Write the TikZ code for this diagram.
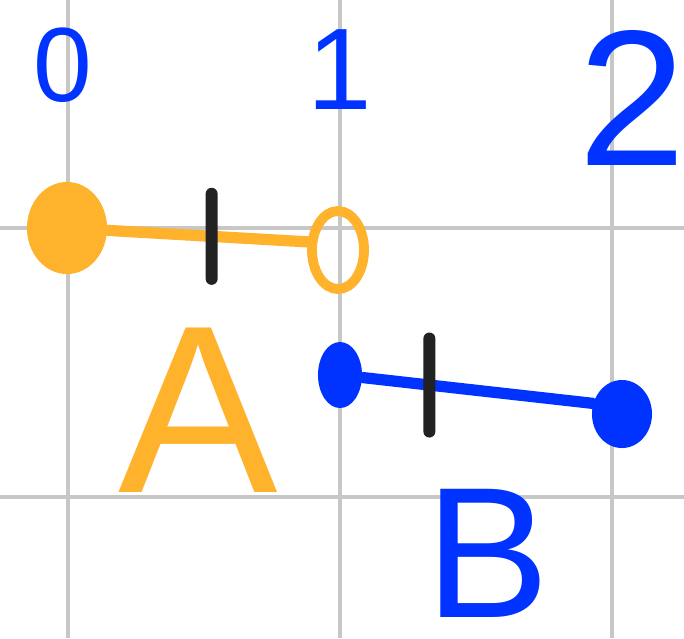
\documentclass[tikz,border=0pt]{standalone}
\usepackage{fontspec}
\setmainfont{Liberation Sans}
\definecolor{penblue}{RGB}{0,51,255}
\definecolor{penorange}{RGB}{255,178,44}
\definecolor{penblack}{RGB}{34,34,34}
\usetikzlibrary{shapes.geometric, positioning}

\begin{document}
\begin{tikzpicture}[x=0.01cm, y=-0.01cm,
  gridline/.style={black!22, line width=0.9pt},
  fulldot/.style={ellipse, fill=#1, inner sep=0pt},
  hollowdot/.style={ellipse, draw=#1, line width=2.8pt, inner sep=0pt},
  penline/.style={line width=3.2pt, line cap=round},
  penlabel/.style={inner sep=0pt},
  tickbar/.style={rectangle, fill=penblack, rounded corners=0.06cm,
                  minimum width=0.12cm, inner sep=0pt}]
\useasboundingbox (0,0) rectangle (684,638);
\fill[white] (0,0) rectangle (684,638);
% grid
\foreach \x in {68,340,612} \draw[gridline] (\x,0) -- (\x,638);
\foreach \y in {228,497} \draw[gridline] (0,\y) -- (684,\y);
% number labels
\foreach \name/\lab/\x/\y/\sz in {zero/0/63/65/30, one/1/340/70/33, two/2/632/98/55}{
  \node[penlabel, penblue, font=\fontsize{\sz}{\sz}\selectfont] (\name) at (\x,\y) {\lab};
}
% interval A
\node[fulldot=penorange, minimum width=0.8cm, minimum height=0.92cm] (astart) at (67,228) {};
\node[hollowdot=penorange, minimum width=0.52cm, minimum height=0.78cm] (aend) at (338,250) {};
\draw[penline, penorange] (astart) -- node[tickbar, pos=0.52, minimum height=0.97cm] (amid) {} (aend.165);
\node[penlabel, penorange, font=\fontsize{68}{68}\selectfont] (alab) at (198,410) {A};
% interval B
\node[fulldot=penblue, minimum width=0.44cm, minimum height=0.66cm] (bstart) at (340,375) {};
\node[fulldot=penblue, minimum width=0.6cm, minimum height=0.68cm] (bend) at (622,414) {};
\draw[penline, penblue] (bstart) -- node[tickbar, pos=0.29, minimum height=1.05cm] (bmid) {} (bend.160);
\node[penlabel, penblue, font=\fontsize{53}{53}\selectfont] (blab) at (488,553) {B};
\end{tikzpicture}
\end{document}
